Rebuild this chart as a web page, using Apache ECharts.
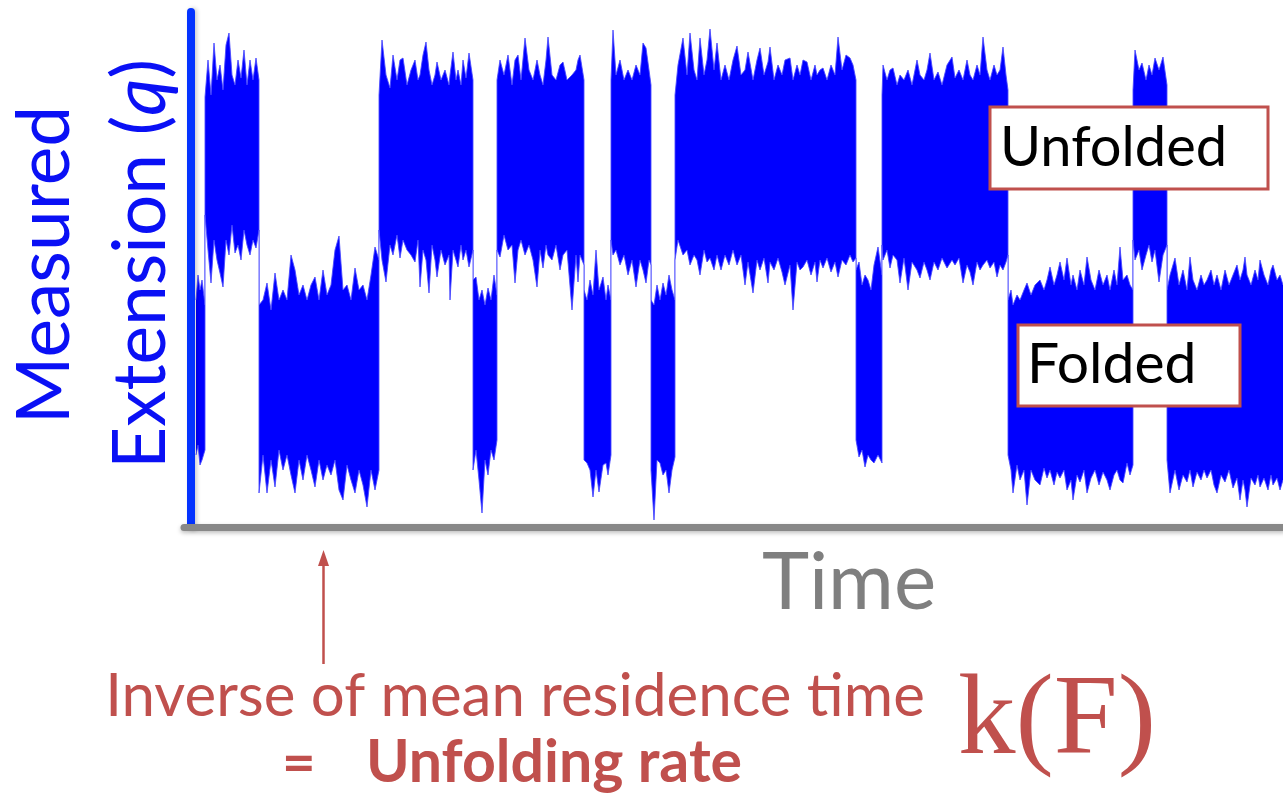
<!DOCTYPE html>
<html>
<head>
<meta charset="utf-8">
<style>
  html, body { margin: 0; padding: 0; background: #fff; }
  #chart { width: 1283px; height: 794px; }
</style>
<script src="https://cdn.jsdelivr.net/npm/echarts@6/dist/echarts.min.js"></script>
</head>
<body>
<div id="chart"></div>
<script>
// time (arbitrary units) and the upper / lower envelope of the noisy extension trace,
// read off the picture one dwell at a time (state switches repeat the time value)
const time = [
  12, 14, 16, 18, 21,
  21, 24, 27, 30, 33, 36, 39, 42, 45, 48, 51, 54, 57, 60, 63, 66, 69, 72, 75,
  75, 79, 83, 87, 91, 95, 99, 103, 107, 111, 115, 119, 123, 127, 131, 135, 139, 143, 147, 151, 155, 159, 163, 167, 171, 175, 179, 183, 187, 191, 195,
  195, 198, 202, 206, 209, 213, 216, 219, 223, 227, 231, 234, 236, 239, 242, 245, 248, 251, 253, 257, 261, 265, 266, 269, 272, 274, 277, 279, 282, 285, 289,
  289, 292, 295, 298, 301, 304, 307, 310, 313,
  313, 316, 320, 324, 328, 331, 334, 337, 341, 345, 349, 353, 356, 359, 362, 364, 368, 372, 376, 379, 383, 388, 392, 394, 396, 400,
  400, 403, 406, 409, 412, 415, 419, 422, 424, 427,
  427, 429, 432, 436, 440, 444, 448, 452, 456, 459, 462, 465, 467,
  467, 470, 473, 476, 479, 482, 485, 488, 491,
  491, 494, 499, 503, 506, 510, 513, 516, 520, 523, 526, 530, 533, 537, 541, 545, 549, 553, 557, 561, 564, 569, 573, 576, 580, 584, 586, 590, 594, 598, 601, 606, 609, 613, 616, 619, 623, 627, 631, 633, 636, 639, 643, 647, 651, 654, 658, 662, 666, 669, 672,
  672, 675, 678, 681, 684, 687, 690, 694, 698,
  698, 699, 703, 706, 709, 713, 716, 720, 724, 728, 733, 736, 740, 743, 746, 750, 754, 758, 763, 768, 771, 775, 779, 783, 786, 789, 793, 796, 799, 803, 806, 810, 813, 816, 819, 822, 824,
  824, 827, 829, 833, 836, 840, 843, 847, 851, 856, 860, 863, 866, 870, 873, 876, 880, 883, 887, 889, 893, 896, 900, 903, 907, 911, 915, 919, 923, 926, 930, 933, 936, 939, 943, 946, 949,
  949, 951, 955, 958, 962, 965, 968, 971, 975, 979, 983,
  983, 986, 991, 995, 999, 1003, 1006, 1009, 1013, 1017, 1020, 1023, 1027, 1030, 1033, 1037, 1041, 1045, 1049, 1053, 1056, 1059, 1061, 1063, 1067, 1071, 1074, 1076, 1080, 1084, 1087, 1089, 1093, 1096, 1099
]

const upperEnv = [
  227, 252, 237, 247, 222,
  430, 467, 432, 484, 447, 462, 437, 482, 494, 452, 442, 467, 449, 477, 442, 467, 447, 469, 447,
  222, 227, 244, 217, 254, 227, 237, 227, 272, 257, 232, 242, 227, 242, 250, 227, 257, 232, 242, 277, 291, 237, 242, 227, 259, 237, 242, 227, 252, 280, 267,
  432, 487, 452, 439, 472, 447, 467, 469, 442, 457, 467, 447, 452, 472, 485, 457, 442, 452, 465, 447, 457, 442, 452, 475, 447, 457, 442, 467, 449, 474, 447,
  247, 250, 227, 237, 222, 239, 227, 252, 232,
  447, 467, 452, 472, 442, 467, 472, 447, 489, 457, 447, 467, 452, 442, 467, 490, 452, 447, 462, 465, 447, 452, 457, 467, 472, 447,
  237, 227, 247, 232, 277, 237, 250, 227, 242, 227,
  447, 497, 452, 467, 447, 457, 447, 462, 452, 484, 479, 457, 442,
  227, 222, 242, 227, 244, 232, 252, 237, 227,
  432, 462, 489, 452, 494, 457, 447, 489, 452, 467, 498, 457, 484, 447, 462, 447, 467, 481, 452, 457, 475, 447, 467, 479, 452, 465, 480, 447, 462, 452, 467, 469, 447, 462, 452, 467, 465, 447, 462, 452, 457, 459, 447, 462, 452, 490, 457, 472, 469, 462, 447,
  257, 265, 242, 252, 247, 237, 262, 280, 252,
  432, 462, 447, 457, 459, 442, 452, 447, 457, 442, 467, 452, 447, 457, 474, 447, 455, 442, 462, 470, 449, 457, 447, 467, 452, 447, 462, 452, 490, 457, 447, 462, 452, 457, 480, 452, 437,
  227, 237, 222, 232, 227, 237, 244, 232, 242, 247, 237, 247, 260, 242, 252, 265, 247, 269, 242, 252, 237, 257, 242, 270, 247, 237, 257, 242, 252, 237, 257, 242, 280, 247, 252, 242, 237,
  437, 477, 457, 464, 447, 462, 452, 469, 457, 470, 442,
  237, 252, 269, 242, 257, 237, 270, 247, 237, 252, 242, 247, 257, 242, 252, 237, 257, 242, 252, 262, 247, 257, 270, 252, 242, 257, 247, 267, 252, 242, 257, 262, 247, 252, 242
]

const lowerEnv = [
  72, 82, 62, 67, 77,
  312, 277, 244, 287, 267, 254, 240, 287, 272, 302, 274, 282, 267, 297, 282, 272, 287, 279, 297,
  34, 72, 34, 67, 40, 77, 57, 72, 52, 34, 67, 47, 72, 57, 40, 67, 47, 62, 52, 67, 37, 27, 62, 47, 34, 57, 42, 20, 57, 37, 57,
  297, 267, 245, 282, 272, 292, 269, 287, 277, 272, 265, 287, 240, 277, 267, 234, 282, 267, 250, 277, 262, 272, 227, 277, 267, 260, 282, 267, 277, 260, 277,
  57, 77, 47, 14, 67, 52, 77, 67, 87,
  277, 270, 292, 277, 282, 244, 277, 287, 272, 282, 267, 240, 277, 259, 282, 272, 267, 282, 257, 272, 277, 217, 272, 245, 272, 262,
  67, 64, 57, 30, 57, 35, 62, 64, 52, 72,
  287, 272, 277, 262, 272, 252, 267, 240, 267, 257, 244, 267, 262,
  57, 7, 67, 64, 52, 57, 34, 57, 70,
  267, 287, 272, 277, 262, 272, 267, 252, 277, 265, 269, 257, 272, 257, 272, 262, 277, 262, 272, 242, 265, 234, 267, 257, 269, 244, 265, 257, 269, 255, 242, 262, 217, 265, 257, 260, 267, 252, 265, 245, 267, 259, 269, 255, 265, 250, 267, 262, 272, 265, 269,
  87, 70, 77, 60, 72, 67, 64, 72, 64,
  282, 267, 277, 259, 272, 267, 244, 269, 237, 265, 257, 249, 265, 257, 247, 265, 257, 269, 259, 267, 262, 269, 244, 262, 255, 242, 265, 257, 262, 267, 259, 265, 250, 262, 257, 265, 272,
  72, 57, 34, 62, 47, 57, 22, 57, 47, 42, 59, 49, 57, 42, 55, 49, 57, 37, 47, 27, 52, 45, 57, 34, 49, 57, 42, 55, 47, 37, 52, 57, 47, 44, 64, 52, 62,
  287, 267, 277, 257, 272, 282, 265, 277, 245, 272, 282,
  67, 34, 57, 37, 52, 45, 57, 40, 55, 47, 57, 49, 57, 42, 34, 52, 45, 57, 39, 49, 27, 47, 37, 20, 49, 42, 52, 40, 49, 37, 52, 42, 49, 37, 47
]

const stateLabels = ['Unfolded', 'Folded']
const red = '#c0504d'
const traceBlue = '#0000ff'

const chart = echarts.init(document.getElementById('chart'))

const option = {
  animation: false,
  grid: { left: 184, right: 0, top: 12, bottom: 267 },
  xAxis: {
    type: 'value',
    min: 0,
    max: 1099,
    z: 6,
    axisLine: {
      lineStyle: { color: '#888888', width: 7, shadowBlur: 4, shadowColor: 'rgba(0,0,0,0.25)', shadowOffsetY: 2 }
    },
    axisTick: { show: false },
    axisLabel: { show: false },
    splitLine: { show: false }
  },
  yAxis: {
    type: 'value',
    min: 0,
    max: 515,
    offset: -7,
    z: 5,
    axisLine: {
      show: true,
      lineStyle: { color: '#0433ff', width: 8, shadowBlur: 4, shadowColor: 'rgba(0,0,0,0.2)', shadowOffsetX: 2 }
    },
    axisTick: { show: false },
    axisLabel: { show: false },
    splitLine: { show: false }
  },
  series: [
    {
      // top edge of the trace, filled down
      type: 'line',
      data: time.map((t, i) => [t, upperEnv[i]]),
      symbol: 'none',
      lineStyle: { color: 'rgba(70,70,255,0.85)', width: 1 },
      areaStyle: { color: traceBlue, opacity: 1, origin: 'start' },
      z: 2
    },
    {
      // bottom edge of the trace, masks below it
      type: 'line',
      data: time.map((t, i) => [t, lowerEnv[i]]),
      symbol: 'none',
      lineStyle: { color: 'rgba(70,70,255,0.85)', width: 1 },
      areaStyle: { color: '#ffffff', opacity: 1, origin: 'start' },
      z: 3
    }
  ],
  graphic: [
    // state boxes
    {
      type: 'rect', z: 20,
      shape: { x: 990, y: 107, width: 278, height: 82 },
      style: { fill: '#fff', stroke: red, lineWidth: 3 }
    },
    {
      type: 'text', z: 21, x: 1000, y: 148,
      style: { text: stateLabels[0], font: '56px Lato', fill: '#000', align: 'left', verticalAlign: 'middle' }
    },
    {
      type: 'rect', z: 20,
      shape: { x: 1018, y: 325, width: 222, height: 81 },
      style: { fill: '#fff', stroke: red, lineWidth: 3 }
    },
    {
      type: 'text', z: 21, x: 1027, y: 365,
      style: { text: stateLabels[1], font: '57px Lato', fill: '#000', align: 'left', verticalAlign: 'middle' }
    },
    // axis titles
    {
      type: 'text', z: 21, x: 45, y: 265, rotation: Math.PI / 2,
      style: { text: 'Measured', font: '73px Lato', fill: '#0a10f5', align: 'center', verticalAlign: 'middle' }
    },
    {
      type: 'text', z: 21, x: 141, y: 264, rotation: Math.PI / 2,
      style: {
        text: '{a|Extension (}{b|q}{a|)}',
        align: 'center',
        verticalAlign: 'middle',
        rich: {
          a: { fontSize: 73, fontFamily: 'Lato', fill: '#0a10f5' },
          b: { fontSize: 73, fontFamily: 'Lato', fontStyle: 'italic', fill: '#0a10f5' }
        }
      }
    },
    {
      type: 'text', z: 21, x: 849, y: 583,
      style: { text: 'Time', font: '80px Lato', fill: '#7f7f7f', align: 'center', verticalAlign: 'middle' }
    },
    // arrow
    {
      type: 'line', z: 21,
      shape: { x1: 323.5, y1: 664, x2: 323.5, y2: 560 },
      style: { stroke: red, lineWidth: 2.5 }
    },
    {
      type: 'polygon', z: 21,
      shape: { points: [[323.5, 550], [318, 566], [329, 566]] },
      style: { fill: red }
    },
    // caption
    {
      type: 'text', z: 21, x: 515, y: 697,
      style: { text: 'Inverse of mean residence time', font: '60px Lato', fill: red, align: 'center', verticalAlign: 'middle' }
    },
    {
      type: 'text', z: 21, x: 282, y: 764,
      style: { text: '=', font: 'bold 58px Lato', fill: red, align: 'left', verticalAlign: 'middle' }
    },
    {
      type: 'text', z: 21, x: 366, y: 763,
      style: { text: 'Unfolding rate', font: 'bold 59px Lato', fill: red, align: 'left', verticalAlign: 'middle' }
    },
    {
      type: 'text', z: 21, x: 958, y: 723,
      style: { text: 'k(F)', font: '115px "Liberation Serif"', fill: red, align: 'left', verticalAlign: 'middle' }
    }
  ]
}

chart.setOption(option)
</script>
</body>
</html>
